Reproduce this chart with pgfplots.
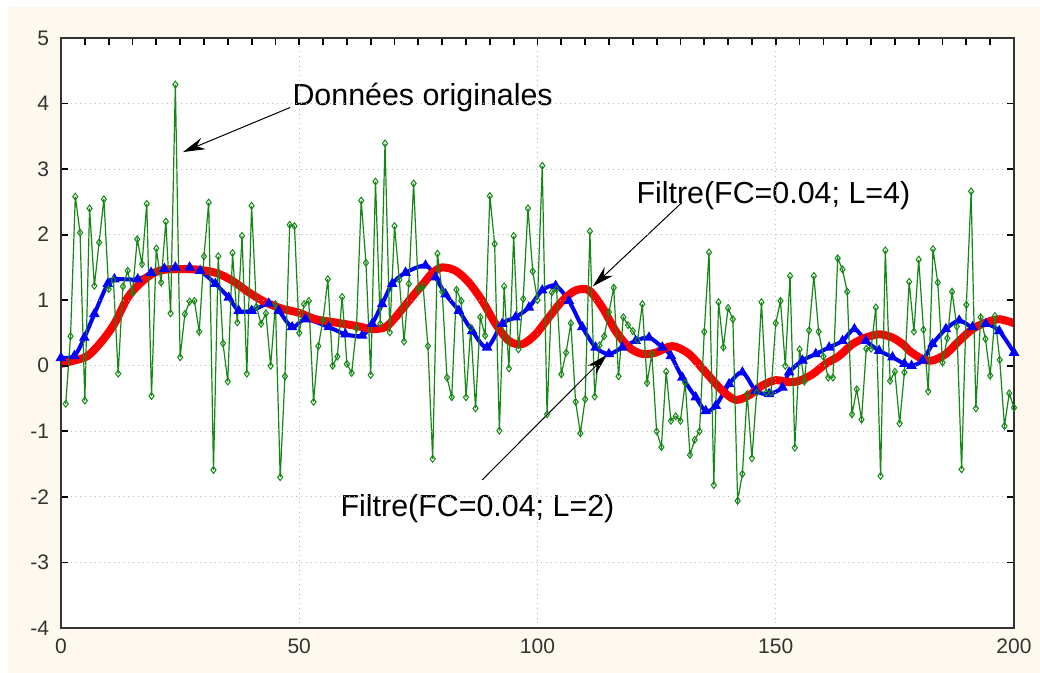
\documentclass[border=0pt]{standalone}
\usepackage{fontspec}
\setmainfont{Liberation Sans}
\usepackage{pgfplots}
\pgfplotsset{compat=1.18}
\usetikzlibrary{arrows.meta}

\definecolor{cream}{RGB}{253,249,238}
\definecolor{dgreen}{RGB}{20,135,20}
\definecolor{gridgray}{RGB}{185,185,185}

\pgfplotstableread{
x y
1 -0.58
2 0.45
3 2.58
4 2.03
5 -0.53
6 2.40
7 1.22
8 1.88
9 2.54
10 1.17
11 1.31
12 -0.12
13 1.21
14 1.45
15 1.11
16 1.93
17 1.55
18 2.47
19 -0.46
20 1.79
21 1.27
22 2.20
23 0.80
24 4.29
25 0.13
26 0.79
27 0.98
28 0.99
29 0.52
30 1.67
31 2.49
32 -1.59
33 1.67
34 0.34
35 -0.24
36 1.72
37 0.66
38 1.98
39 -0.12
40 2.44
41 0.90
42 0.64
43 0.80
44 0.00
45 0.94
46 -1.70
47 -0.16
48 2.15
49 2.13
50 0.50
51 0.94
52 0.99
53 -0.55
54 0.30
55 0.70
56 1.32
57 0.00
58 0.14
59 1.05
60 0.03
61 -0.11
62 0.57
63 2.52
64 1.57
65 -0.14
66 2.81
67 0.64
68 3.39
69 0.51
70 2.13
71 1.31
72 0.37
73 1.25
74 2.78
75 1.16
76 1.21
77 0.30
78 -1.42
79 1.71
80 1.13
81 -0.18
82 -0.48
83 1.16
84 0.99
85 -0.48
86 0.58
87 -0.65
88 0.74
89 0.46
90 2.59
91 1.86
92 -0.99
93 1.21
94 -0.04
95 1.98
96 0.25
97 1.02
98 2.40
99 1.44
100 1.00
101 3.05
102 -0.74
103 1.12
104 1.17
105 -0.13
106 0.20
107 0.65
108 -0.55
109 -1.03
110 -0.51
111 2.05
112 -0.47
113 0.31
114 0.45
115 0.82
116 1.19
117 -0.16
118 0.74
119 0.62
120 0.53
121 0.39
122 0.94
123 -0.26
124 0.18
125 -1.00
126 -1.24
127 -0.09
128 -0.84
129 -0.77
130 -0.84
131 -0.26
132 -1.36
133 -1.13
134 -1.00
135 0.52
136 1.73
137 -1.82
138 0.97
139 0.28
140 0.88
141 0.71
142 -2.06
143 -1.65
144 -0.43
145 -1.41
146 -0.41
147 0.97
148 -0.41
149 -0.41
150 0.65
151 0.99
152 0.00
153 1.37
154 -1.25
155 0.25
156 -0.24
157 0.54
158 1.37
159 0.52
160 0.14
161 -0.18
162 -0.18
163 1.64
164 1.47
165 1.13
166 -0.74
167 -0.36
168 -0.82
169 0.26
170 0.26
171 0.89
172 -1.68
173 1.76
174 -0.23
175 -0.09
176 -0.88
177 -0.10
178 1.28
179 0.52
180 1.62
181 0.55
182 -0.39
183 1.78
184 1.27
185 0.05
186 0.42
187 1.13
188 0.60
189 -1.58
190 0.93
191 2.66
192 -0.65
193 0.74
194 0.41
195 -0.15
196 0.76
197 0.09
198 -0.92
199 -0.42
200 -0.64
}\orig

% filtre L=2 (bleu)
\pgfplotstableread{
x y
0 0.12
2.8 0.15
4.9 0.43
7 0.79
9.8 1.25
11.2 1.32
16.1 1.32
18.9 1.42
21.7 1.48
24 1.50
27 1.50
29.2 1.45
32.4 1.25
35.2 1.04
37.3 0.84
40 0.84
43.6 0.95
45.7 0.84
48.5 0.59
51.3 0.71
56.2 0.59
59.7 0.48
63.2 0.46
65.3 0.64
67.4 0.94
69.5 1.25
72.3 1.42
76.5 1.53
78.6 1.35
80.7 1.09
83.5 0.84
86.3 0.53
89.4 0.28
92.6 0.64
95.4 0.74
98.2 0.89
101 1.15
103.8 1.22
106.6 0.99
109.4 0.59
112.2 0.28
115 0.18
117.8 0.28
120.6 0.38
123.4 0.43
126.2 0.28
128 0.15
130.4 -0.18
133.2 -0.48
135.3 -0.69
137.4 -0.61
140.2 -0.28
143 -0.10
145.8 -0.38
148.6 -0.43
151.4 -0.33
152.8 -0.10
155.6 0.08
158.4 0.18
161.2 0.28
164 0.38
166.5 0.56
168.9 0.38
171.7 0.23
174.5 0.13
177 0.03
178.5 0.00
180.8 0.08
182.9 0.33
185.7 0.56
188.5 0.69
191.3 0.59
194.1 0.64
196.9 0.53
200 0.20
}\filtA

% filtre L=4 (rouge)
\pgfplotstableread{
x y
0 0.03
2.8 0.08
5.6 0.15
8.4 0.36
11.2 0.64
14 1.04
16.8 1.27
19.6 1.42
22.4 1.47
28 1.47
32.4 1.42
35.9 1.30
39.4 1.12
42.9 0.97
46.4 0.87
49.9 0.81
53.4 0.71
57.6 0.66
61.8 0.61
65.3 0.56
68.1 0.59
70.2 0.74
73 0.99
76 1.25
78 1.42
80 1.50
82.8 1.45
85.6 1.27
88.4 0.99
91.2 0.64
94 0.38
96.8 0.33
99.6 0.48
102.4 0.74
105.2 0.99
108 1.15
110.8 1.15
113.6 0.89
116.4 0.53
119.2 0.28
122 0.18
124.8 0.20
128.3 0.30
131.8 0.18
135.3 -0.10
138.8 -0.38
141.6 -0.52
144.4 -0.45
147.2 -0.30
150 -0.22
152.8 -0.25
154.9 -0.23
157.7 -0.13
160.5 0.03
163.3 0.15
166.1 0.33
168.9 0.43
171.7 0.48
174.5 0.43
177 0.31
178 0.23
180.8 0.10
182.9 0.08
185.7 0.18
188.5 0.38
191.3 0.56
194.1 0.66
196.9 0.71
200 0.65
}\filtB

\begin{document}
\begin{tikzpicture}
% fond (1 px = 0.5 pt)
\fill[white] (-30.5pt,-22.5pt) rectangle (489.5pt,314pt);
\fill[cream] (-26.5pt,-22.5pt) rectangle (489.5pt,310.5pt);
\begin{axis}[
    scale only axis,
    width=476.5pt, height=295pt,
    xmin=0, xmax=200, ymin=-4, ymax=5,
    xtick={0,50,...,200}, ytick={-4,...,5},
    minor xtick={5,10,...,195},
    xtick pos=right, xticklabel pos=left,
    ytick pos=both,
    tick align=inside,
    major tick length=3.5pt, minor tick length=3.5pt,
    every tick/.style={black, line width=0.9pt},
    xmajorgrids, ymajorgrids,
    major grid style={gridgray, dotted, line width=0.6pt},
    axis line style={black!80, line width=0.9pt},
    axis background/.style={fill=white},
    /pgf/number format/assume math mode=true,
    tick label style={font=\fontsize{10.5}{12}\selectfont, text=black!80},
    xticklabel style={yshift=-2pt},
    yticklabel style={xshift=-2.5pt},
    axis on top,
]
\addplot[blue, line width=2pt, smooth, mark=triangle*, mark size=1.1pt,
    mark options={blue}] table {\filtA};
\addplot[red, line width=4pt, smooth] table {\filtB};
\addplot[dgreen, line width=0.6pt, mark=diamond, mark size=1.7pt,
    mark options={fill=white, line width=0.5pt}] table {\orig};

\draw[black, line width=0.5pt, -{Stealth[length=11pt, width=6pt]}]
    (axis cs:48.1,3.94) -- (axis cs:25.6,3.26);
\draw[black, line width=0.5pt, -{Stealth[length=11pt, width=6pt]}]
    (axis cs:130.3,2.49) -- (axis cs:111.6,1.21);
\draw[black, line width=0.5pt, -{Stealth[length=11pt, width=6pt]}]
    (axis cs:88.4,-1.74) -- (axis cs:114.6,0.17);

\node[anchor=west, inner sep=0pt, font=\fontsize{15.2}{17}\selectfont]
    at (axis cs:48.5,4.09) {Données originales};
\node[anchor=west, inner sep=0pt, font=\fontsize{15.2}{17}\selectfont]
    at (axis cs:120.7,2.6) {Filtre(FC=0.04; L=4)};
\node[anchor=west, inner sep=0pt, font=\fontsize{15.2}{17}\selectfont]
    at (axis cs:58.6,-2.18) {Filtre(FC=0.04; L=2)};
\end{axis}
\pgfresetboundingbox
\useasboundingbox (-30.5pt,-22.5pt) rectangle (489.5pt,314pt);
\end{tikzpicture}
\end{document}
